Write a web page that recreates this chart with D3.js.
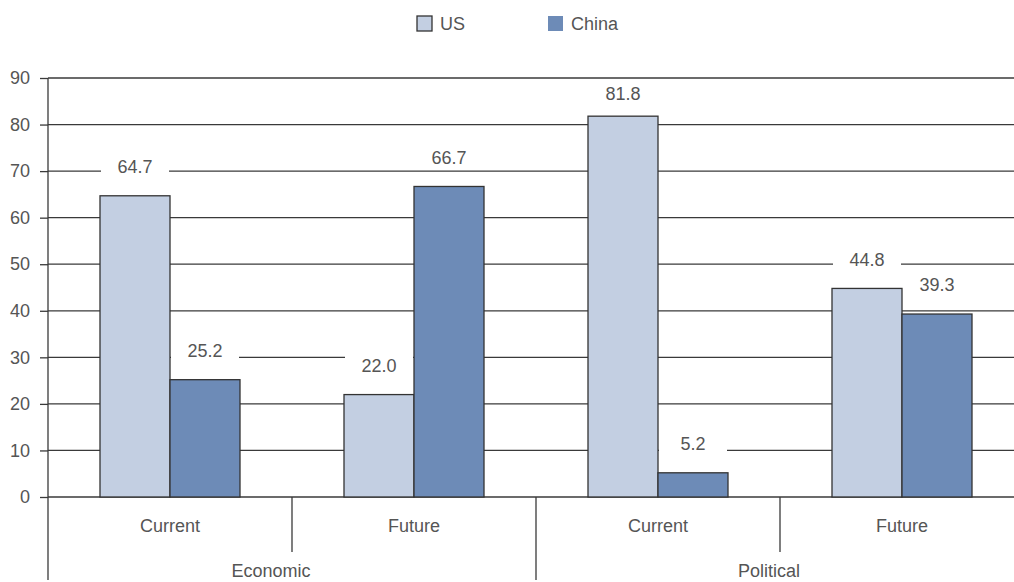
<!DOCTYPE html>
<html>
<head>
<meta charset="utf-8">
<script src="https://cdn.jsdelivr.net/npm/d3@7"></script>
<style>
  html, body { margin: 0; padding: 0; background: #fff; }
  svg { display: block; font-family: "Liberation Sans", Arial, sans-serif; }
</style>
</head>
<body>
<svg id="chart" width="1014" height="582"></svg>
<script>
// Survey values: share naming each country, by domain and time frame
const domains = ["Economic", "Political"];
const periods = ["Current", "Future"];
const seriesNames = ["US", "China"];
const usValues = [64.7, 22.0, 81.8, 44.8];
const chinaValues = [25.2, 66.7, 5.2, 39.3];
const yTicks = [0, 10, 20, 30, 40, 50, 60, 70, 80, 90];

const colors = { US: "#c3cfe2", China: "#6d8bb7" };
const textColor = "#555";
const lineColor = "#3a3a3a";
const fontSize = 18;
// Horizontal nudge for the outer (domain) labels
const domainLabelShift = [-21, -11];

const svg = d3.select("#chart");
const plot = { left: 48, right: 1024, top: 78, bottom: 497 };

// One band per domain/period pair
const groups = [];
domains.forEach(d => periods.forEach(p => groups.push({ domain: d, period: p, key: d + "|" + p })));
groups.forEach((g, i) => { g.US = usValues[i]; g.China = chinaValues[i]; });

const x = d3.scaleBand().domain(groups.map(g => g.key)).range([plot.left, plot.right]).padding(0);
const xOuter = d3.scaleBand().domain(domains).range([plot.left, plot.right]).padding(0);
const barW = 70;
const xSeries = d3.scaleBand().domain(seriesNames).range([-barW, barW]).padding(0);
const y = d3.scaleLinear().domain([0, 90]).range([plot.bottom, plot.top]);

// Horizontal gridlines
svg.append("g").selectAll("line").data(yTicks.filter(t => t > 0)).join("line")
  .attr("x1", plot.left).attr("x2", 1014)
  .attr("y1", d => y(d)).attr("y2", d => y(d))
  .attr("stroke", lineColor).attr("stroke-width", 1.3);

// Y axis with labels
const yAxis = d3.axisLeft(y).tickValues(yTicks).tickSize(8).tickPadding(10).tickFormat(d3.format("d"));
const yg = svg.append("g").attr("transform", `translate(${plot.left},0)`).call(yAxis);
yg.select(".domain").remove();
yg.selectAll(".tick line").attr("stroke", lineColor).attr("stroke-width", 1.3);
yg.selectAll(".tick text").attr("fill", textColor).attr("font-size", fontSize)
  .attr("font-family", "Liberation Sans, Arial, sans-serif");

// Left axis line, running down through the category rows
svg.append("line").attr("x1", plot.left).attr("x2", plot.left)
  .attr("y1", plot.top).attr("y2", 580).attr("stroke", lineColor).attr("stroke-width", 1.3);

// Baseline
svg.append("line").attr("x1", plot.left).attr("x2", 1014)
  .attr("y1", y(0)).attr("y2", y(0)).attr("stroke", lineColor).attr("stroke-width", 1.3);

// Value labels with white backing (drawn before bars so bars sit on top)
const labelData = [];
groups.forEach(g => seriesNames.forEach(s => labelData.push({ g, s, v: g[s] })));
const labelG = svg.append("g");
labelData.forEach(d => {
  const cx = x(d.g.key) + x.bandwidth() / 2 + xSeries(d.s) + xSeries.bandwidth() / 2;
  const cy = Math.max(y(d.v) - 29, 94);
  labelG.append("rect").attr("x", cx - 34).attr("y", cy - 12).attr("width", 68).attr("height", 24).attr("fill", "#fff");
  labelG.append("text").attr("x", cx).attr("y", cy).attr("dy", "0.35em")
    .attr("text-anchor", "middle").attr("font-size", fontSize).attr("fill", textColor)
    .text(d3.format(".1f")(d.v));
});

// Bars
const barG = svg.append("g");
groups.forEach(g => {
  seriesNames.forEach(s => {
    const bx = x(g.key) + x.bandwidth() / 2 + xSeries(s);
    barG.append("rect")
      .attr("x", bx).attr("y", y(g[s]))
      .attr("width", xSeries.bandwidth()).attr("height", y(0) - y(g[s]))
      .attr("fill", colors[s]).attr("stroke", "#333").attr("stroke-width", 1.3);
  });
});

// Category rows: periods, then domains
const catG = svg.append("g");
groups.forEach((g, i) => {
  catG.append("text").attr("x", x(g.key) + x.bandwidth() / 2).attr("y", 532)
    .attr("text-anchor", "middle").attr("font-size", fontSize).attr("fill", textColor).text(g.period);
  if (i > 0) {
    const isDomainEdge = groups[i - 1].domain !== g.domain;
    catG.append("line").attr("x1", x(g.key)).attr("x2", x(g.key))
      .attr("y1", y(0)).attr("y2", isDomainEdge ? 580 : 552)
      .attr("stroke", lineColor).attr("stroke-width", 1.3);
  }
});
domains.forEach((d, i) => {
  catG.append("text").attr("x", xOuter(d) + xOuter.bandwidth() / 2 + domainLabelShift[i]).attr("y", 577)
    .attr("text-anchor", "middle").attr("font-size", fontSize).attr("fill", textColor).text(d);
});

// Legend
const legendItems = [{ name: "US", x: 417, stroke: true }, { name: "China", x: 548, stroke: false }];
const lg = svg.append("g");
legendItems.forEach(it => {
  lg.append("rect").attr("x", it.x).attr("y", 16).attr("width", 15).attr("height", 15)
    .attr("fill", colors[it.name]).attr("stroke", it.stroke ? "#333" : "none").attr("stroke-width", 1.3);
  lg.append("text").attr("x", it.x + 23).attr("y", 23.5).attr("dy", "0.35em")
    .attr("font-size", fontSize).attr("fill", textColor).text(it.name);
});
</script>
</body>
</html>
